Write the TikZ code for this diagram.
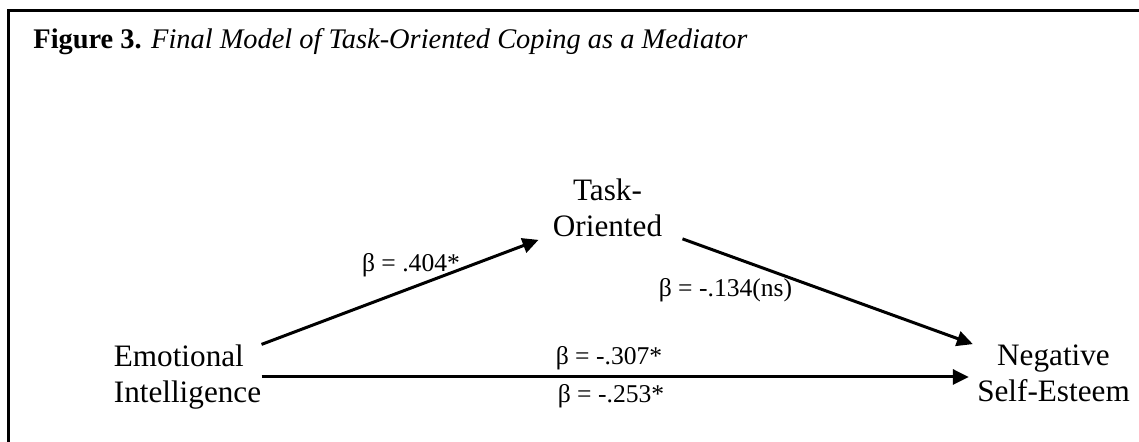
\documentclass[tikz,border=0pt]{standalone}
\usepackage{fontspec}
\setmainfont{Liberation Serif}
\usetikzlibrary{arrows.meta}

\begin{document}
\begin{tikzpicture}[x=0.5pt,y=-0.5pt]
  \tikzstyle{var}=[inner sep=0pt,font=\fontsize{15.6}{18}\selectfont]
  \tikzstyle{coef}=[inner sep=0pt,anchor=base,font=\fontsize{12.8}{15}\selectfont]
  \tikzstyle{arr}=[line width=1.5pt,-{Triangle[length=8pt,width=7.5pt]}]
  \useasboundingbox (0,0) rectangle (1139,442);
  % frame, open at right and bottom
  \draw[line width=1.5pt] (8.5,442) -- (8.5,10.5) -- (1139,10.5);
  \node[inner sep=0pt,anchor=base west,font=\fontsize{14.2}{17}\selectfont] (title) at (33,49)
    {\textbf{Figure 3.} \textit{Final Model of Task-Oriented Coping as a Mediator}};
  \node[var,align=left] (ei) at (187.5,377) {Emotional\\Intelligence};
  \node[var,align=center] (task) at (607.5,207.5) {Task-\\Oriented};
  \node[var,align=center] (neg) at (1053.5,373) {Negative\\Self-Esteem};
  \draw[arr] (ei.north east) -- ([shift={(-14,3)}]task.south west);
  \draw[arr] ([shift={(20,2)}]task.south east) -- ([shift={(-4,0)}]neg.north west);
  \draw[arr] (ei.east) -- ([xshift=-4]ei.east -| neg.west);
  \node[coef] (b1) at (411,272) {β = .404*};
  \node[coef] (b2) at (725.5,297) {β = -.134(ns)};
  \node[coef] (b3) at (609,365) {β = -.307*};
  \node[coef] (b4) at (611,403) {β = -.253*};
\end{tikzpicture}
\end{document}
